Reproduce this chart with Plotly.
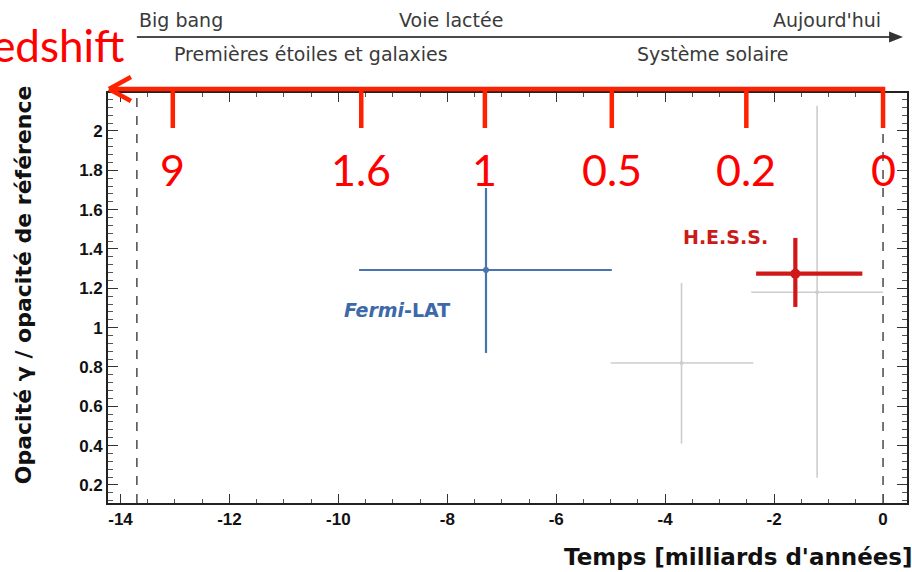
import plotly.graph_objects as go

# ---------------- data ----------------
# measurements: lookback time (Gyr, negative = past) and gamma opacity ratio
names = ["gris1", "gris2", "Fermi-LAT", "H.E.S.S."]
t_center = [-3.70, -1.21, -7.29, -1.61]
t_low = [-5.00, -2.42, -9.62, -2.33]
t_high = [-2.38, 0.00, -4.98, -0.38]
op_center = [0.82, 1.18, 1.293, 1.274]
op_low = [0.41, 0.237, 0.871, 1.105]
op_high = [1.227, 2.128, 1.71, 1.456]
colors = ["#cdcdcd", "#cdcdcd", "#4a74b0", "#d01818"]
widths = [1.6, 1.6, 2.2, 4.2]
msizes = [4, 4, 6, 10]

# redshift scale (lookback time of each redshift)
z_labels = ["9", "1.6", "1", "0.5", "0.2", "0"]
z_time = [-13.04, -9.58, -7.31, -4.98, -2.51, 0.0]

# cosmic timeline
above_txt = ["Big bang", "Voie lactée", "Aujourd'hui"]
above_t = [-13.70, -7.93, 0.0]
above_anchor = ["left", "center", "right"]
below_txt = ["Premières étoiles et galaxies", "Système solaire"]
below_t = [-10.51, -3.13]
t_bigbang = -13.70
t_now = 0.0

x_ticks = [-14, -12, -10, -8, -6, -4, -2, 0]
y_ticks = [0.2, 0.4, 0.6, 0.8, 1.0, 1.2, 1.4, 1.6, 1.8, 2.0]

# ---------------- geometry ----------------
W, H = 912, 572
ML, MR, MT, MB = 108, 3, 93, 69
XR = [-14.23, 0.44]
YR = [0.108, 2.193]
PW = W - ML - MR
PH = H - MT - MB


def xp(v):  # data x -> paper
    return (v - XR[0]) / (XR[1] - XR[0])


def pxx(p):  # pixel x -> paper
    return (p - ML) / PW


def pxy(p):  # pixel y -> paper
    return (H - MB - p) / PH


fig = go.Figure()

for i in range(len(names)):
    fig.add_trace(go.Scatter(
        x=[t_center[i]], y=[op_center[i]], mode="markers",
        marker=dict(color=colors[i], size=msizes[i]),
        error_x=dict(type="data", symmetric=False,
                     array=[t_high[i] - t_center[i]],
                     arrayminus=[t_center[i] - t_low[i]],
                     color=colors[i], thickness=widths[i], width=0),
        error_y=dict(type="data", symmetric=False,
                     array=[op_high[i] - op_center[i]],
                     arrayminus=[op_center[i] - op_low[i]],
                     color=colors[i], thickness=widths[i], width=0),
        showlegend=False, hoverinfo="skip"))

shapes = []
# dashed vertical lines (big bang & today)
for tv in [t_bigbang, t_now]:
    shapes.append(dict(type="line", xref="x", yref="paper", x0=tv, x1=tv,
                       y0=0, y1=1, line=dict(color="#555555", width=1.6, dash="dash")))

# top timeline arrow
ty = pxy(37)
tip = pxx(905)
shapes.append(dict(type="line", xref="paper", yref="paper", x0=xp(t_bigbang), x1=tip - 0.005,
                   y0=ty, y1=ty, line=dict(color="#4a4a4a", width=2.2)))
shapes.append(dict(type="path", xref="paper", yref="paper",
                   path=f"M {tip} {ty} L {pxx(891)} {pxy(31.5)} L {pxx(891)} {pxy(42.5)} Z",
                   fillcolor="#333333", line=dict(width=0)))

# red redshift arrow
RED = "#ff2200"
ry = pxy(89)
shapes.append(dict(type="line", xref="paper", yref="paper", x0=xp(z_time[-1]) + 0.002, x1=pxx(109),
                   y0=ry, y1=ry, line=dict(color=RED, width=4.5)))
shapes.append(dict(type="line", xref="paper", yref="paper", x0=pxx(109), x1=pxx(131),
                   y0=ry, y1=pxy(77), line=dict(color=RED, width=4.5)))
shapes.append(dict(type="line", xref="paper", yref="paper", x0=pxx(109), x1=pxx(131),
                   y0=ry, y1=pxy(101), line=dict(color=RED, width=4.5)))
for tv in z_time:
    shapes.append(dict(type="line", xref="paper", yref="paper", x0=xp(tv), x1=xp(tv),
                       y0=ry + 0.005, y1=pxy(128), line=dict(color=RED, width=4.5)))

annotations = []
for lab, tv in zip(z_labels, z_time):
    annotations.append(dict(text=lab, xref="paper", yref="paper", x=xp(tv), y=pxy(169),
                            xanchor="center", yanchor="middle", showarrow=False,
                            font=dict(family="Lato", size=43, color="#ff0000")))
annotations.append(dict(text="Redshift", xref="paper", yref="paper", x=pxx(126), y=pxy(45),
                        xanchor="right", yanchor="middle", showarrow=False,
                        font=dict(family="Lato", size=44, color="#ff0000")))

tl_font = dict(family="DejaVu Sans", size=19, color="#3a3a3a")
for txt, tv, anc in zip(above_txt, above_t, above_anchor):
    annotations.append(dict(text=txt, xref="paper", yref="paper", x=xp(tv), y=pxy(20),
                            xanchor=anc, yanchor="middle", showarrow=False, font=tl_font))
for txt, tv in zip(below_txt, below_t):
    annotations.append(dict(text=txt, xref="paper", yref="paper", x=xp(tv), y=pxy(54),
                            xanchor="center", yanchor="middle", showarrow=False, font=tl_font))

# series labels
annotations.append(dict(text="<i>Fermi</i>-LAT", xref="x", yref="y", x=-8.92, y=1.09,
                        xanchor="center", yanchor="middle", showarrow=False,
                        font=dict(family="DejaVu Sans", size=19, color="#3d68aa", weight="bold")))
annotations.append(dict(text="H.E.S.S.", xref="x", yref="y", x=-2.90, y=1.46,
                        xanchor="center", yanchor="middle", showarrow=False,
                        font=dict(family="DejaVu Sans", size=19, color="#cc1a1a", weight="bold")))

# axis titles
annotations.append(dict(text="Opacité γ / opacité de référence", xref="paper", yref="paper",
                        x=pxx(23), y=pxy(285), textangle=-90, xanchor="center", yanchor="middle",
                        showarrow=False,
                        font=dict(family="DejaVu Sans", size=22, color="#111111", weight="bold")))
annotations.append(dict(text="Temps [milliards d'années]", xref="paper", yref="paper",
                        x=pxx(917), y=pxy(557), xanchor="right", yanchor="middle", showarrow=False,
                        font=dict(family="DejaVu Sans", size=23, color="#111111", weight="bold")))

tickfont = dict(family="Liberation Sans", size=17, color="#111111", weight="bold")
fig.update_layout(
    width=W, height=H,
    margin=dict(l=ML, r=MR, t=MT, b=MB),
    paper_bgcolor="white", plot_bgcolor="white",
    shapes=shapes, annotations=annotations,
    xaxis=dict(range=XR, tickvals=x_ticks, ticktext=[str(v) for v in x_ticks],
               ticks="inside", ticklen=9, tickwidth=1.3, tickcolor="#333333",
               showline=True, linecolor="#222222", linewidth=1.6, mirror="ticks",
               showgrid=False, zeroline=False, tickfont=tickfont,
               minor=dict(dtick=0.5, tick0=0, ticks="inside", ticklen=4, tickcolor="#555555", showgrid=False)),
    yaxis=dict(range=YR, tickvals=y_ticks, ticktext=[f"{v:g}" for v in y_ticks],
               ticks="inside", ticklen=10, tickwidth=1.3, tickcolor="#333333",
               showline=True, linecolor="#222222", linewidth=1.6, mirror="ticks",
               showgrid=False, zeroline=False, tickfont=tickfont,
               minor=dict(dtick=0.04, tick0=0, ticks="inside", ticklen=5, tickcolor="#555555", showgrid=False)),
)

fig.write_html("out.html")
